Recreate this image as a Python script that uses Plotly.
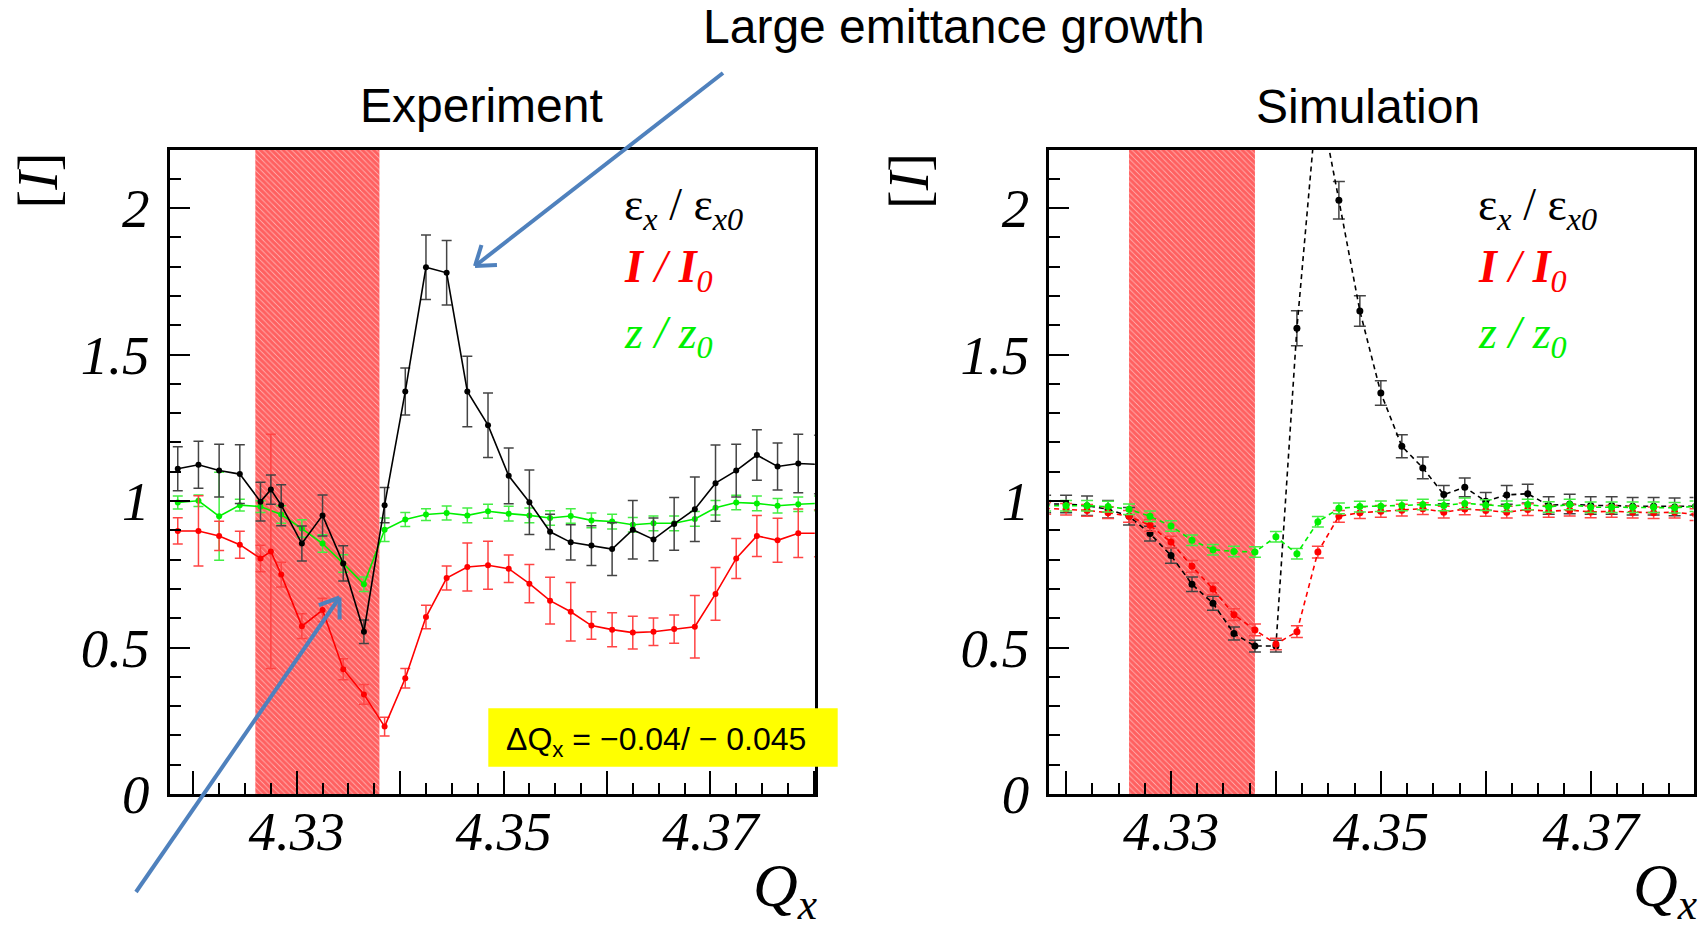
import math
import plotly.graph_objects as go

# ---------------- data ----------------
# Experiment: measured tune scan (the 4.3275 point exists for emittance and intensity only)
exp_q = [4.3185, 4.3205, 4.3225, 4.3245, 4.3265, 4.3275, 4.3285, 4.3305, 4.3325, 4.3345,
         4.3365, 4.3385, 4.3405, 4.3425, 4.3445, 4.3465, 4.3485, 4.3505, 4.3525, 4.3545,
         4.3565, 4.3585, 4.3605, 4.3625, 4.3645, 4.3665, 4.3685, 4.3705, 4.3725, 4.3745,
         4.3765, 4.3785, 4.3805]
exp_eps = [1.110, 1.124, 1.104, 1.092, 0.998, 1.039, 0.986, 0.855, 0.951, 0.787,
           0.554, 0.986, 1.374, 1.798, 1.779, 1.374, 1.259, 1.086, 0.996, 0.895,
           0.859, 0.848, 0.836, 0.902, 0.869, 0.922, 0.972, 1.061, 1.104, 1.157,
           1.118, 1.128, 1.125]
exp_eps_err = [0.075, 0.080, 0.090, 0.100, 0.066, 0.050, 0.070, 0.060, 0.070, 0.060,
               0.040, 0.060, 0.080, 0.110, 0.110, 0.120, 0.110, 0.095, 0.110, 0.060,
               0.060, 0.068, 0.090, 0.100, 0.073, 0.090, 0.110, 0.130, 0.090, 0.086,
               0.080, 0.100, 0.100]
exp_int = [0.898, 0.898, 0.881, 0.851, 0.804, 0.828, 0.749, 0.573, 0.628, 0.426,
           0.340, 0.230, 0.395, 0.604, 0.737, 0.775, 0.781, 0.769, 0.718, 0.660,
           0.622, 0.575, 0.561, 0.551, 0.554, 0.563, 0.571, 0.683, 0.804, 0.881,
           0.866, 0.890, 0.890]
exp_int_err = [0.045, 0.120, 0.050, 0.046, 0.045, 0.400, 0.042, 0.042, 0.040, 0.036,
               0.034, 0.032, 0.033, 0.040, 0.041, 0.082, 0.082, 0.047, 0.065, 0.080,
               0.100, 0.047, 0.058, 0.056, 0.047, 0.048, 0.107, 0.090, 0.068, 0.070,
               0.075, 0.083, 0.080]
exp_q_z = [4.3185, 4.3205, 4.3225, 4.3245, 4.3265, 4.3285, 4.3305, 4.3325, 4.3345, 4.3365,
           4.3385, 4.3405, 4.3425, 4.3445, 4.3465, 4.3485, 4.3505, 4.3525, 4.3545, 4.3565,
           4.3585, 4.3605, 4.3625, 4.3645, 4.3665, 4.3685, 4.3705, 4.3725, 4.3745, 4.3765,
           4.3785, 4.3805]
exp_z = [0.995, 1.001, 0.948, 0.986, 0.981, 0.954, 0.906, 0.855, 0.787, 0.716,
         0.902, 0.937, 0.954, 0.959, 0.951, 0.965, 0.957, 0.951, 0.942, 0.949,
         0.934, 0.930, 0.919, 0.924, 0.924, 0.939, 0.977, 0.995, 0.992, 0.984,
         0.989, 0.992]
exp_z_err = [0.022, 0.020, 0.150, 0.020, 0.020, 0.030, 0.030, 0.030, 0.030, 0.025,
             0.040, 0.024, 0.020, 0.024, 0.025, 0.024, 0.025, 0.025, 0.025, 0.025,
             0.025, 0.025, 0.025, 0.025, 0.025, 0.025, 0.025, 0.025, 0.025, 0.025,
             0.025, 0.025]

# Simulation
sim_q = [4.318, 4.320, 4.322, 4.324, 4.326, 4.328, 4.330, 4.332, 4.334, 4.336,
         4.338, 4.340, 4.342, 4.344, 4.346, 4.348, 4.350, 4.352, 4.354, 4.356,
         4.358, 4.360, 4.362, 4.364, 4.366, 4.368, 4.370, 4.372, 4.374, 4.376,
         4.378, 4.380]
sim_eps = [0.990, 0.990, 0.984, 0.972, 0.948, 0.889, 0.814, 0.716, 0.651, 0.548,
           0.505, 0.505, 1.590, 2.400, 2.027, 1.649, 1.369, 1.187, 1.113, 1.022,
           1.047, 0.999, 1.021, 1.025, 0.985, 0.990, 0.985, 0.985, 0.982, 0.982,
           0.980, 0.982]
sim_eps_err = [0.030, 0.030, 0.033, 0.030, 0.030, 0.025, 0.026, 0.025, 0.024, 0.022,
               0.020, 0.020, 0.060, 0.060, 0.064, 0.052, 0.042, 0.039, 0.037, 0.031,
               0.032, 0.030, 0.032, 0.032, 0.030, 0.033, 0.030, 0.030, 0.030, 0.030,
               0.030, 0.030]
sim_int = [0.975, 0.972, 0.968, 0.960, 0.948, 0.917, 0.860, 0.777, 0.700, 0.612,
           0.560, 0.512, 0.554, 0.826, 0.948, 0.960, 0.965, 0.969, 0.974, 0.962,
           0.973, 0.968, 0.962, 0.971, 0.965, 0.969, 0.963, 0.965, 0.962, 0.960,
           0.962, 0.954]
sim_int_err = [0.020] * 32
sim_z = [0.984, 0.984, 0.984, 0.981, 0.972, 0.948, 0.915, 0.866, 0.834, 0.828,
         0.826, 0.878, 0.820, 0.929, 0.975, 0.981, 0.982, 0.985, 0.988, 0.985,
         0.992, 0.986, 0.982, 0.988, 0.980, 0.988, 0.979, 0.979, 0.979, 0.979,
         0.977, 0.982]
sim_z_err = [0.018] * 32

# resonance band (hatched)
band_q = [4.326, 4.338]

x_tick_vals = [4.32, 4.33, 4.34, 4.35, 4.36, 4.37, 4.38]
x_tick_text = ["", "4.33", "", "4.35", "", "4.37", ""]
y_tick_vals = [0, 0.5, 1, 1.5, 2]
y_tick_text = ["0", "0.5", "1", "1.5", "2"]

# ---------------- layout helpers ----------------
W, H = 1704, 936
H_EFF = 905   # vertical extent the page actually gives the drawing


def px(x):
    return x / W


def py(y):
    return 1 - y / H_EFF


SERIF = "Liberation Serif"
SANS = "Liberation Sans"
BLACK, RED, GREEN = "#000000", "#ff0000", "#00f000"
BLUE = "#4f81bd"

fig = go.Figure()


def add_band(xa, ya):
    fig.add_trace(go.Bar(
        x=[(band_q[0] + band_q[1]) / 2], y=[2.2], width=[band_q[1] - band_q[0]],
        base=0, xaxis=xa, yaxis=ya, showlegend=False, hoverinfo="skip",
        marker=dict(color="white", line=dict(width=0),
                    pattern=dict(shape="\\", fgcolor=RED, bgcolor="#ffc0c0",
                                 size=4, solidity=0.8)),
    ))


def add_series(xa, ya, x, y, err, color, errcolor, dash, msize, capw):
    fig.add_trace(go.Scatter(
        x=x, y=y, xaxis=xa, yaxis=ya, mode="lines+markers", showlegend=False,
        line=dict(color=color, width=1.6, dash=dash),
        marker=dict(color=color, size=msize),
        error_y=dict(type="data", array=err, visible=True, color=errcolor,
                     thickness=1.5, width=capw),
    ))


add_band("x", "y")
add_band("x2", "y2")

# experiment panel
add_series("x", "y", exp_q_z, exp_z, exp_z_err, GREEN, "#44ee44", "solid", 6, 5)
add_series("x", "y", exp_q, exp_int, exp_int_err, RED, "#ff4444", "solid", 6, 5)
add_series("x", "y", exp_q, exp_eps, exp_eps_err, BLACK, "#444444", "solid", 6, 5)

# simulation panel
add_series("x2", "y2", sim_q, sim_eps, sim_eps_err, BLACK, "#444444", "5px,4px", 7, 6)
add_series("x2", "y2", sim_q, sim_int, sim_int_err, RED, "#ff4444", "5px,4px", 7, 6)
add_series("x2", "y2", sim_q, sim_z, sim_z_err, GREEN, "#44ee44", "5px,4px", 7, 6)

tick_font = dict(family=SERIF, size=55, color="black", style="italic")

y_minor = [round(0.1 * i, 1) for i in range(1, 22) if i % 5 != 0]
x_minor = [round(4.3175 + 0.0025 * i, 4) for i in range(26)]
x_minor = [v for v in x_minor if round(v * 100, 4) % 1 != 0]


def xaxis_cfg(domain, rng, anchor):
    return dict(domain=domain, range=rng, anchor=anchor, showline=True, linewidth=3,
                linecolor="black", mirror=True, ticks="inside", ticklen=23, tickwidth=2,
                tickcolor="black", tickmode="array", tickvals=x_tick_vals,
                ticktext=x_tick_text, tickfont=tick_font, showgrid=False, zeroline=False,
                ticklabelstandoff=-13,
                minor=dict(ticks="inside", ticklen=11, tickwidth=2, tickcolor="black",
                           tickmode="array", tickvals=x_minor, showgrid=False))


def yaxis_cfg(anchor):
    return dict(domain=[py(794), py(149.5)], range=[0, 2.2], anchor=anchor,
                showline=True, linewidth=3, linecolor="black", mirror=True,
                ticks="inside", ticklen=20, tickwidth=2, tickcolor="black",
                tickmode="array", tickvals=y_tick_vals, ticktext=y_tick_text,
                tickfont=tick_font, showgrid=False, zeroline=False, ticklabelstandoff=6,
                minor=dict(ticks="inside", ticklen=11, tickwidth=2, tickcolor="black",
                           tickmode="array", tickvals=y_minor, showgrid=False))


fig.update_layout(
    width=W, height=H, margin=dict(l=0, r=0, t=0, b=0),
    paper_bgcolor="white", plot_bgcolor="white", barmode="overlay",
    xaxis=xaxis_cfg([px(169.5), px(814.8)], [4.3177, 4.3801], "y"),
    xaxis2=xaxis_cfg([px(1049.3), px(1693.5)], [4.3184, 4.3798], "y2"),
    yaxis=yaxis_cfg("x"),
    yaxis2=yaxis_cfg("x2"),
)

# ---------------- text ----------------
ann = []


def text(x, y, s, size, family, color="black", xanchor="center", yanchor="middle",
         angle=0):
    ann.append(dict(x=px(x), y=py(y), xref="paper", yref="paper", text=s,
                    showarrow=False, xanchor=xanchor, yanchor=yanchor, textangle=angle,
                    font=dict(family=family, size=size, color=color)))


text(953.5, 27, "Large emittance growth", 48, SANS)
text(481.5, 105, "Experiment", 48, SANS)
text(1367.5, 107, "Simulation", 48, SANS)

for x0 in (37.5, 909):
    text(x0, 181, "[<i>I</i>]", 56, SERIF, angle=-90)

for xr in (819, 1699):
    text(xr, 849, "<i>Q</i><sub><i>x</i></sub>", 62, SERIF, xanchor="right", yanchor="top")

for xl in (621.8, 1476):
    text(xl, 208, "ε<sub><i>x</i></sub> / ε<sub><i>x0</i></sub>", 46, SERIF, BLACK, xanchor="left")
    text(xl, 270, "<b><i>I</i></b><i> / </i><b><i>I</i></b><sub><i>0</i></sub>", 46, SERIF, RED,
         xanchor="left")
    text(xl, 336, "<i>z / z</i><sub><i>0</i></sub>", 46, SERIF, GREEN, xanchor="left")

text(656, 741, "ΔQ<sub>x</sub> = −0.04/ − 0.045", 32, SANS)

fig.update_layout(annotations=ann)

# ---------------- shapes: tune-shift box and arrows ----------------
shapes = [dict(type="rect", xref="paper", yref="paper", layer="above",
               x0=px(488.3), x1=px(837.7), y0=py(766.7), y1=py(708.3),
               fillcolor="#ffff00", line=dict(width=0))]


def arrow(tail, tip, head_len=22, half_angle=35):
    lw = 4
    shapes.append(dict(type="line", xref="paper", yref="paper", layer="above",
                       x0=px(tail[0]), y0=py(tail[1]), x1=px(tip[0]), y1=py(tip[1]),
                       line=dict(color=BLUE, width=lw)))
    ang = math.atan2(tail[1] - tip[1], tail[0] - tip[0])
    for s in (-1, 1):
        a = ang + s * math.radians(half_angle)
        ex, ey = tip[0] + head_len * math.cos(a), tip[1] + head_len * math.sin(a)
        shapes.append(dict(type="line", xref="paper", yref="paper", layer="above",
                           x0=px(tip[0]), y0=py(tip[1]), x1=px(ex), y1=py(ey),
                           line=dict(color=BLUE, width=lw)))


arrow((723, 73), (475, 266))
arrow((136, 892), (339.5, 597.5))

fig.update_layout(shapes=shapes)

fig.write_html("out.html")
